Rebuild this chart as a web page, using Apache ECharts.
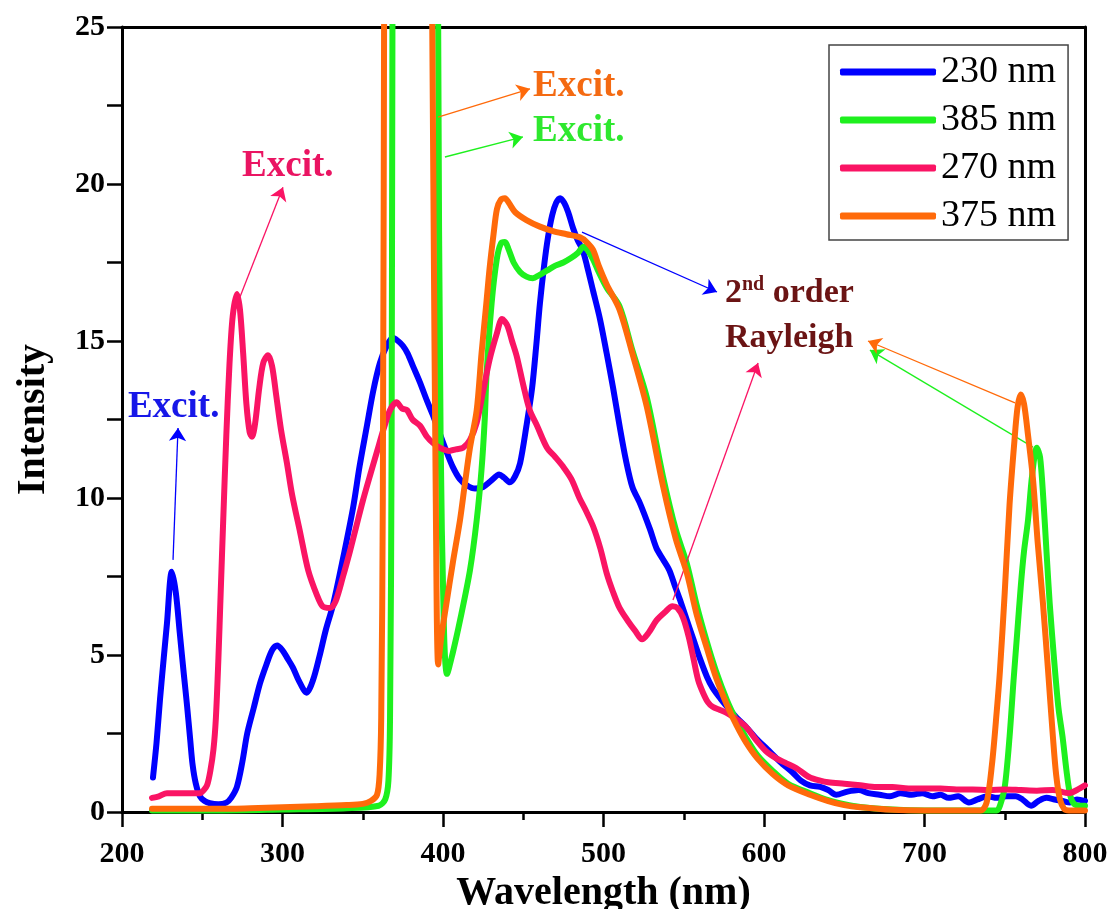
<!DOCTYPE html>
<html><head><meta charset="utf-8">
<script src="https://cdn.jsdelivr.net/npm/echarts@6/dist/echarts.min.js"></script>
<style>html,body{margin:0;padding:0;background:#fff}#c{width:1112px;height:909px}</style>
</head><body><div id="c"></div>
<script>
// ---------- DATA ----------
const xTicks = [200, 300, 400, 500, 600, 700, 800];
const yTicks = [0, 5, 10, 15, 20, 25];
const seriesNames = ['230 nm', '385 nm', '270 nm', '375 nm'];

// 230 nm (blue)
const blueX = [219.3,221.5,223.7,226,228,231,233.5,236,238.5,240.5,242.5,244,246,248.6,251.5,254.8,260,265,268,271.6,275,278,282,286,290,293.5,296.6,300,303,306.5,310,315,319,323,327,331.5,337,344,348,352.6,356.5,360.7,365,368.8,372,375,378,381.3,385.5,390,394,398,402,406,410.5,415,420,425,430,435,438,441.7,445,448,452,455.5,458,460.4,463,465.4,468,470.5,473,475.5,478,481,484,487,489.7,493.5,497.8,502,506,510,514,518,523,529,533,537,541,544.5,547.7,552,556,560,564.5,568,573,577,583,589,595,602,610,618,623,628.6,635,640,645,652,659,665,672,678.5,685,692,698.5,705,710,715,721,727.7,733,739.5,745,751,756.8,761,766.4,771,776,781,786,790.6,795,800];
const blueY = [1.1,2.2,3.6,4.9,6.0,7.65,7.0,5.7,4.4,3.4,2.3,1.5,0.9,0.5,0.35,0.28,0.25,0.3,0.45,0.8,1.6,2.5,3.3,4.1,4.7,5.15,5.3,5.15,4.9,4.6,4.2,3.8,4.2,4.95,5.8,6.6,7.9,9.7,11.0,12.3,13.4,14.3,14.85,15.1,15.0,14.85,14.6,14.2,13.7,13.1,12.6,12.05,11.5,11.0,10.6,10.4,10.3,10.35,10.55,10.75,10.65,10.5,10.7,11.1,12.3,13.5,14.8,16.2,17.4,18.3,19.0,19.4,19.55,19.4,19.1,18.6,18.2,17.9,17.4,16.6,15.7,14.6,13.5,12.3,11.2,10.35,9.8,9.0,8.4,8.05,7.7,7.2,6.75,6.1,5.5,4.9,4.3,3.95,3.6,3.35,3.0,2.7,2.35,2.0,1.6,1.25,1.0,0.85,0.8,0.7,0.55,0.65,0.7,0.6,0.55,0.5,0.6,0.55,0.6,0.5,0.55,0.45,0.5,0.3,0.4,0.5,0.45,0.5,0.5,0.4,0.2,0.35,0.45,0.4,0.35,0.3,0.4,0.35];

// 385 nm (green)
const greenX = [218.7,260,300,340,360,364,366,367,368,369,370,396,397,398.5,400.5,402.5,406,410.6,416.8,421,424,426,427.2,430.3,433.5,436,438.6,441,444,448,452,456,460,465,470,475,480,484,487.5,490,493.5,497,502,510,518,527,537,545,552,558,564.5,570,577,583,589,596,605.6,615,628.6,640,650,660,680,700,720,745,747,750,753,755.5,757.6,760,762,764.5,767,770,772,774,776,778,781,783.5,786,788.5,790.5,792.5,796,800];
const greenY = [0.05,0.05,0.08,0.12,0.2,0.4,1.0,3,12,40,60,60,25,12,6,4.4,5.05,6.1,7.7,9.3,10.9,12.5,14.0,16.2,17.6,18.1,18.15,17.9,17.5,17.2,17.05,17.0,17.1,17.25,17.4,17.5,17.65,17.8,18.0,17.9,17.6,17.2,16.7,16.1,14.7,13.2,10.7,9.0,7.9,6.6,5.4,4.5,3.55,2.9,2.35,1.8,1.3,0.9,0.6,0.38,0.25,0.16,0.08,0.05,0.05,0.05,0.2,0.8,2.4,4.2,5.6,7.2,8.3,9.3,10.7,11.6,11.3,10.0,8.3,6.65,4.7,3.3,2.4,1.3,0.6,0.3,0.2,0.2];

// 270 nm (pink)
const pinkX = [218.7,223,228,235,242,248.6,251,253,255,257,258.5,260,261.5,263,265,267,269,271.6,273.5,275.5,277.5,279.5,281,283,285.5,288,291,293.5,296,299,302.8,306,311,316,321.5,325,329.6,333,337.7,342,346,350,355,359,363,367,371,374.5,377.6,381,385.7,390,393.8,398,404,408,412.5,416.8,421,425,429,433.6,436.8,440,443,446,450,454,458.6,464.8,470,474.8,480,485,489,493.5,498,502,506,510,515,520,524,528,533,538,543,546,549.5,553,556,559,562,565,568,572.6,577,583,589,595,602,608,614,620,628.6,635,640,650,660,670,680,690,700,710,720,730,740,750,760,770,780,790,795,800];
const pinkY = [0.45,0.5,0.6,0.6,0.6,0.6,0.7,0.85,1.3,2.0,3.0,4.8,7.0,9.2,12.0,14.3,15.8,16.5,16.0,14.6,13.0,12.1,11.95,12.4,13.5,14.3,14.55,14.2,13.3,12.2,11.1,10.1,8.9,7.7,6.9,6.55,6.5,6.7,7.5,8.3,9.1,9.9,10.8,11.5,12.2,12.8,13.05,12.85,12.8,12.5,12.3,11.95,11.75,11.6,11.5,11.55,11.6,11.85,12.4,13.4,14.4,15.25,15.7,15.5,15.0,14.5,13.6,12.8,12.3,11.6,11.3,11.0,10.6,10.0,9.6,9.1,8.4,7.6,7.0,6.5,6.1,5.75,5.5,5.7,6.1,6.35,6.55,6.5,6.2,5.6,4.9,4.2,3.8,3.5,3.35,3.25,3.15,2.95,2.7,2.3,1.9,1.7,1.55,1.4,1.1,1.0,0.95,0.9,0.85,0.8,0.8,0.75,0.75,0.75,0.72,0.72,0.7,0.72,0.7,0.68,0.7,0.6,0.7,0.85];

// 375 nm (orange)
const orangeX = [218.7,240,260,280,300,320,340,350,355,358.9,360.5,361.5,362.5,363.5,364.5,392,392.8,394,395.5,397,399,402,406,410.6,413.5,416.8,421,424,427,429,431.5,433.6,436,438.6,441,445,452,460,468.5,477,485.4,489.5,493.5,497,502,510,518,527,537,545,552,558,564.5,570,577,583,589,596,605.6,615,628.6,640,650,660,680,700,720,735,738.7,742,745,747,750,753,756,758,760,762,764.5,767.6,770.5,773.8,777,780,782,784.4,787,790,800];
const orangeY = [0.1,0.1,0.1,0.12,0.15,0.18,0.22,0.26,0.35,0.55,1.2,3,10,30,60,60,30,20,10,4.7,5.6,6.6,7.9,9.3,10.4,11.6,12.8,14.6,16.2,17.3,18.4,19.2,19.5,19.55,19.4,19.1,18.85,18.65,18.5,18.4,18.3,18.15,17.9,17.4,16.8,16.0,14.6,12.9,10.4,8.7,7.6,6.3,5.2,4.3,3.4,2.75,2.2,1.7,1.2,0.85,0.55,0.35,0.22,0.15,0.07,0.05,0.05,0.05,0.3,1.5,3.2,4.5,7.0,9.8,11.8,12.9,13.3,13.0,12.0,10.6,8.6,6.65,4.5,2.4,1.2,0.4,0.1,0.05,0.05];

// annotation texts: [text, x(nm), y(intensity), color]
const noteTexts = [
  ['Excit.', 203.7, 12.9, '#1717e8'],
  ['Excit.', 274.8, 20.56, '#ea1462'],
  ['Excit.', 456.1, 23.1, '#f46a12'],
  ['Excit.', 456.1, 21.67, '#2ee82e']
];
const rayleighPos = [575.7, 16.51, 15.08];
// arrows: [x1,y1,x2,y2] in data units, per series index
const arrows = {
  0: [[231.8, 8.03, 234.9, 12.23], [486.6, 18.47, 570.7, 16.56]],
  1: [[401.2, 20.86, 449.8, 21.5], [767.6, 11.62, 666.0, 14.71]],
  2: [[273.5, 16.4, 300.3, 19.9], [543.3, 6.75, 596.3, 14.3]],
  3: [[396.9, 22.13, 454.2, 23.03], [756.4, 13.03, 664.8, 15.0]]
};

// ---------- CHART ----------
const colors = ['#0000ff', '#1ef01e', '#fa1464', '#ff6a0a'];
const seriesX = [blueX, greenX, pinkX, orangeX];
const seriesY = [blueY, greenY, pinkY, orangeY];
const serif = '"Liberation Serif", "Times New Roman", serif';

const chart = echarts.init(document.getElementById('c'), null, {renderer: 'canvas'});

const series = seriesNames.map((name, i) => ({
  name: name,
  type: 'line',
  data: seriesX[i].map((x, k) => [x, seriesY[i][k]]),
  showSymbol: false,
  symbol: 'none',
  smooth: 0.3,
  clip: true,
  color: colors[i],
  lineStyle: {width: 6, color: colors[i], cap: 'round', join: 'round'},
  z: 2 + i,
  markLine: {
    silent: true,
    symbol: ['none', 'arrow'],
    symbolSize: 13,
    label: {show: false},
    lineStyle: {type: 'solid', width: 1.3, color: colors[i]},
    data: arrows[i].map(a => [{coord: [a[0], a[1]]}, {coord: [a[2], a[3]]}])
  }
}));

const axisCommon = {
  type: 'value',
  axisLine: {show: true, onZero: false, lineStyle: {color: '#000', width: 3}},
  splitLine: {show: false}
};

chart.setOption({
  animation: false,
  backgroundColor: '#fff',
  grid: {left: 122, right: 27, top: 27, bottom: 97, containLabel: false, outerBoundsMode: 'none'},
  legend: {
    orient: 'vertical', left: 829, top: 45,
    itemWidth: 96, itemHeight: 7, itemGap: 8, icon: 'roundRect',
    padding: [7, 12, 4, 11],
    borderColor: '#444', borderWidth: 1.5, backgroundColor: '#fff',
    textStyle: {fontFamily: serif, fontSize: 38, color: '#000', lineHeight: 40},
    data: seriesNames
  },
  xAxis: [
    Object.assign({}, axisCommon, {
      position: 'bottom', min: xTicks[0], max: xTicks[xTicks.length - 1], interval: 100,
      name: 'Wavelength (nm)', nameLocation: 'middle', nameGap: 58,
      nameTextStyle: {fontFamily: serif, fontWeight: 'bold', fontSize: 40, color: '#000'},
      axisTick: {show: true, inside: false, length: 15, lineStyle: {color: '#000', width: 2.5}},
      minorTick: {show: true, splitNumber: 2, length: 8, lineStyle: {color: '#000', width: 2.5}},
      axisLabel: {fontFamily: serif, fontWeight: 'bold', fontSize: 30, color: '#000', margin: 27}
    }),
    Object.assign({}, axisCommon, {
      position: 'top', min: xTicks[0], max: xTicks[xTicks.length - 1],
      axisTick: {show: false}, axisLabel: {show: false}
    })
  ],
  yAxis: [
    Object.assign({}, axisCommon, {
      position: 'left', min: yTicks[0], max: yTicks[yTicks.length - 1], interval: 5,
      name: 'Intensity', nameLocation: 'middle', nameGap: 68,
      nameTextStyle: {fontFamily: serif, fontWeight: 'bold', fontSize: 40, color: '#000'},
      axisTick: {show: true, inside: false, length: 15, lineStyle: {color: '#000', width: 2.5}},
      minorTick: {show: true, splitNumber: 2, length: 15, lineStyle: {color: '#000', width: 2.5}},
      axisLabel: {fontFamily: serif, fontWeight: 'bold', fontSize: 30, color: '#000', margin: 17}
    }),
    Object.assign({}, axisCommon, {
      position: 'right', min: yTicks[0], max: yTicks[yTicks.length - 1],
      axisTick: {show: false}, axisLabel: {show: false}
    })
  ],
  series: series
});

// annotation texts positioned through the axes
const graphics = noteTexts.map(t => {
  const p = chart.convertToPixel({xAxisIndex: 0, yAxisIndex: 0}, [t[1], t[2]]);
  return {
    type: 'text', x: p[0], y: p[1], z: 100,
    style: {text: t[0], fill: t[3], font: 'bold 37px ' + serif, textAlign: 'left', textVerticalAlign: 'middle'}
  };
});
const r1 = chart.convertToPixel({xAxisIndex: 0, yAxisIndex: 0}, [rayleighPos[0], rayleighPos[1]]);
const r2 = chart.convertToPixel({xAxisIndex: 0, yAxisIndex: 0}, [rayleighPos[0], rayleighPos[2]]);
graphics.push({
  type: 'text', x: r1[0], y: r1[1], z: 100,
  style: {
    text: '{a|2}{s|nd}{a| order}', textAlign: 'left', textVerticalAlign: 'middle',
    rich: {
      a: {fontFamily: serif, fontWeight: 'bold', fontSize: 34, fill: '#6b1414', color: '#6b1414', lineHeight: 38},
      s: {fontFamily: serif, fontWeight: 'bold', fontSize: 20, fill: '#6b1414', color: '#6b1414', verticalAlign: 'top', lineHeight: 38}
    }
  }
});
graphics.push({
  type: 'text', x: r2[0], y: r2[1], z: 100,
  style: {text: 'Rayleigh', fill: '#6b1414', font: 'bold 34px ' + serif, textAlign: 'left', textVerticalAlign: 'middle'}
});
chart.setOption({graphic: graphics});
</script>
</body></html>
